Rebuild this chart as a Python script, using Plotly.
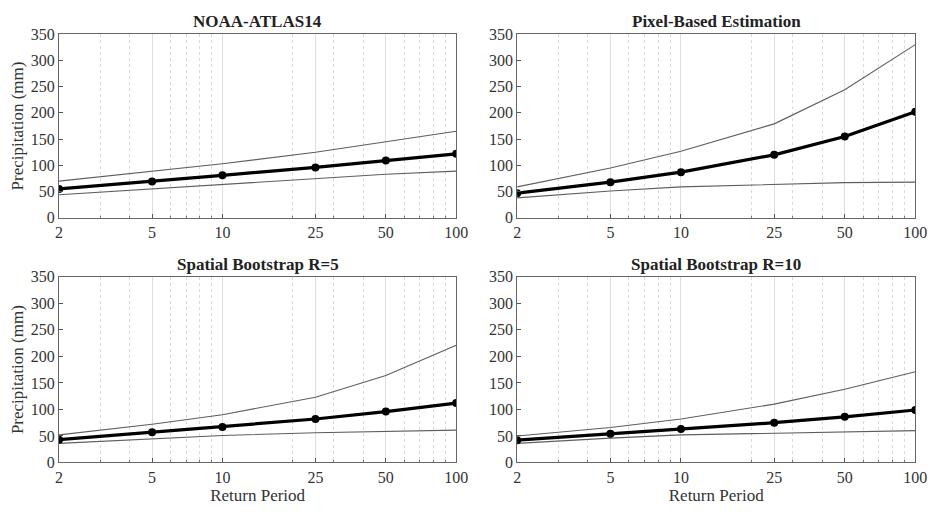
import plotly.graph_objects as go

# Return periods (years)
return_periods = [2, 5, 10, 25, 50, 100]
tick_labels = ["2", "5", "10", "25", "50", "100"]
minor_grid = [3, 4, 6, 7, 8, 9, 20, 30, 40, 60, 70, 80, 90]
y_ticks = [0, 50, 100, 150, 200, 250, 300, 350]

panel_titles = ["NOAA-ATLAS14", "Pixel-Based Estimation",
                "Spatial Bootstrap R=5", "Spatial Bootstrap R=10"]

# Precipitation estimates (mm): central estimate with upper / lower bounds
noaa_mid = [55, 69, 81, 96, 109, 122]
noaa_up = [70, 88, 103, 125, 145, 165]
noaa_lo = [44, 55, 64, 75, 83, 89]

pixel_mid = [47, 68, 87, 120, 155, 202]
pixel_up = [59, 95, 127, 179, 244, 330]
pixel_lo = [38, 51, 59, 64, 67, 68]

r5_mid = [43, 57, 67, 82, 96, 112]
r5_up = [52, 72, 90, 123, 164, 221]
r5_lo = [36, 45, 51, 56, 59, 61]

r10_mid = [42, 54, 63, 75, 86, 99]
r10_up = [50, 66, 82, 110, 138, 171]
r10_lo = [36, 46, 52, 55, 58, 60]

panels = [
    (noaa_mid, noaa_up, noaa_lo),
    (pixel_mid, pixel_up, pixel_lo),
    (r5_mid, r5_up, r5_lo),
    (r10_mid, r10_up, r10_lo),
]

W, H = 944, 515
# plot-area boxes in pixels: (left, right, top, bottom)
boxes = [
    (56, 460, 27, 217),
    (522, 927, 27, 217),
    (56, 460, 278, 470),
    (522, 927, 278, 470),
]

FONT = "Liberation Serif, Times New Roman, serif"
fig = go.Figure()
layout = {}

for i, ((mid, up, lo), (l, r, t, b)) in enumerate(zip(panels, boxes)):
    n = i + 1
    xa = "x" if n == 1 else f"x{n}"
    ya = "y" if n == 1 else f"y{n}"
    for series in (up, lo):
        fig.add_trace(go.Scatter(
            x=return_periods, y=series, mode="lines",
            line=dict(color="#5e5e5e", width=1.1),
            xaxis=xa, yaxis=ya, showlegend=False, hoverinfo="skip"))
    fig.add_trace(go.Scatter(
        x=return_periods, y=mid, mode="lines+markers",
        line=dict(color="black", width=3.2),
        marker=dict(color="black", size=8, symbol="circle"),
        xaxis=xa, yaxis=ya, showlegend=False))

    xkey = "xaxis" if n == 1 else f"xaxis{n}"
    ykey = "yaxis" if n == 1 else f"yaxis{n}"
    layout[xkey] = dict(
        type="log", domain=[l / W, r / W], anchor=ya,
        range=[0.30103, 2.0],
        tickvals=return_periods, ticktext=tick_labels,
        ticks="inside", ticklen=4, tickcolor="#555",
        showgrid=True, gridcolor="#dedede", gridwidth=1,
        minor=dict(tickvals=minor_grid, showgrid=True, gridcolor="#dadada",
                   griddash="dot", gridwidth=1, ticks="inside", ticklen=2,
                   tickcolor="#777"),
        showline=True, linecolor="#666", linewidth=1, mirror=True,
        zeroline=False,
        tickfont=dict(family=FONT, size=16, color="#333"),
        title=dict(text="Return Period" if n >= 3 else "",
                   font=dict(family=FONT, size=17, color="#333"), standoff=1),
    )
    layout[ykey] = dict(
        domain=[1 - b / H, 1 - t / H], anchor=xa,
        range=[0, 350], tickvals=y_ticks,
        ticks="inside", ticklen=4, tickcolor="#555",
        showgrid=False, zeroline=False,
        showline=True, linecolor="#666", linewidth=1, mirror=True,
        tickfont=dict(family=FONT, size=16, color="#333"),
        title=dict(text="Precipitation (mm)" if n in (1, 3) else "",
                   font=dict(family=FONT, size=17, color="#333"), standoff=2),
    )

annotations = []
for title, (l, r, t, b) in zip(panel_titles, boxes):
    annotations.append(dict(
        text=f"<b>{title}</b>", x=(l + r) / 2 / W, y=1 - (t - 1) / H,
        xref="paper", yref="paper", xanchor="center", yanchor="bottom",
        showarrow=False, font=dict(family=FONT, size=17, color="#222")))

fig.update_layout(
    width=W, height=H,
    margin=dict(l=0, r=0, t=0, b=0),
    paper_bgcolor="white", plot_bgcolor="white",
    annotations=annotations,
    **layout,
)

fig.write_html("out.html")
